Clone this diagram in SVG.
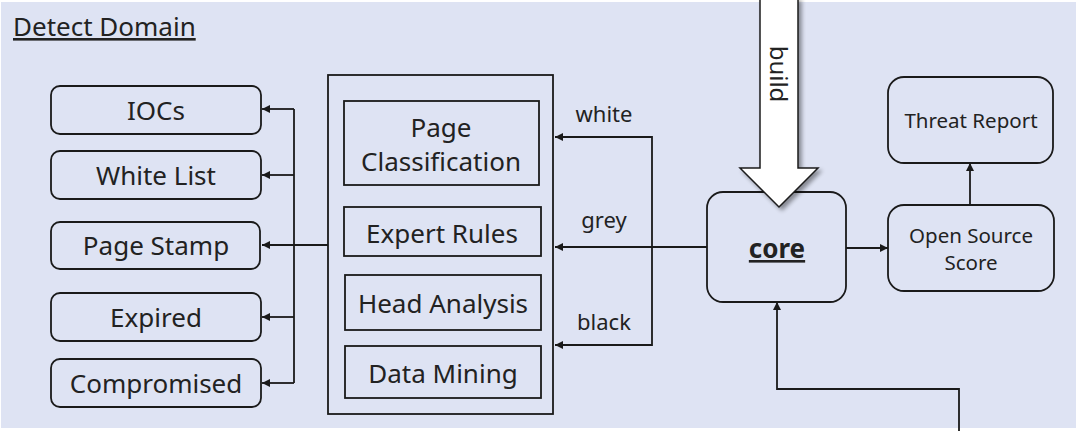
<svg xmlns="http://www.w3.org/2000/svg" width="1080" height="431" viewBox="0 0 1080 431">
<defs>
<style>
text{font-family:"Noto Sans","Open Sans","Liberation Sans",sans-serif;fill:#222222;text-anchor:middle}
.big{font-size:26px}
.sm{font-size:22px}
.box{fill:none;stroke:#1a1a1a;stroke-width:1.8}
.ln{fill:none;stroke:#1a1a1a;stroke-width:1.8}
</style>
<marker id="ah" viewBox="0 0 10 10" refX="10" refY="5" markerWidth="9" markerHeight="8" markerUnits="userSpaceOnUse" orient="auto">
<path d="M0,0 L10,5 L0,10 z" fill="#1a1a1a"/>
</marker>
<filter id="sh" x="-30%" y="-10%" width="160%" height="130%">
<feGaussianBlur in="SourceAlpha" stdDeviation="2"/>
<feOffset dx="3" dy="3" result="b"/>
<feComponentTransfer><feFuncA type="linear" slope="0.4"/></feComponentTransfer>
<feMerge><feMergeNode/><feMergeNode in="SourceGraphic"/></feMerge>
</filter>
</defs>
<rect x="1" y="2" width="1075" height="426" fill="#dee3f3"/>
<text x="13" y="36" class="big" style="text-anchor:start;text-decoration:underline">Detect Domain</text>

<g id="connectors">
<path class="ln" d="M328,245 H262" marker-end="url(#ah)"/>
<path class="ln" d="M294,109 V383"/>
<path class="ln" d="M294,109 H262" marker-end="url(#ah)"/>
<path class="ln" d="M294,175 H262" marker-end="url(#ah)"/>
<path class="ln" d="M294,317 H262" marker-end="url(#ah)"/>
<path class="ln" d="M294,383 H262" marker-end="url(#ah)"/>
<path class="ln" d="M707,247 H555" marker-end="url(#ah)"/>
<path class="ln" d="M652,247 V137 H555" marker-end="url(#ah)"/>
<path class="ln" d="M652,247 V345 H555" marker-end="url(#ah)"/>
<path class="ln" d="M846,248 H888" marker-end="url(#ah)"/>
<path class="ln" d="M970,205 V163" marker-end="url(#ah)"/>
<path class="ln" d="M959,431 V389 H777 V302" marker-end="url(#ah)"/>
<text x="604" y="122" class="sm">white</text>
<text x="604" y="228" class="sm">grey</text>
<text x="604" y="330" class="sm">black</text>
</g>

<g id="iocs"><rect class="box" x="51" y="86" width="210" height="48" rx="9"/><text x="156" y="120" class="big">IOCs</text></g>
<g id="whitelist"><rect class="box" x="51" y="151" width="210" height="48" rx="9"/><text x="156" y="185" class="big">White List</text></g>
<g id="pagestamp"><rect class="box" x="51" y="222" width="209" height="47" rx="9"/><text x="156" y="255" class="big">Page Stamp</text></g>
<g id="expired"><rect class="box" x="51" y="293" width="210" height="48" rx="9"/><text x="156" y="327" class="big">Expired</text></g>
<g id="compromised"><rect class="box" x="51" y="359" width="210" height="48" rx="9"/><text x="156" y="393" class="big">Compromised</text></g>

<g id="engine">
<rect class="box" x="328" y="75" width="225" height="339"/>
<g id="pageclass"><rect class="box" x="344" y="101" width="195" height="84"/><text x="441" y="137" class="big">Page</text><text x="441" y="171" class="big">Classification</text></g>
<g id="expert"><rect class="box" x="344" y="207" width="197" height="49"/><text x="442" y="243" class="big">Expert Rules</text></g>
<g id="head"><rect class="box" x="345" y="275" width="196" height="55"/><text x="443" y="313" class="big">Head Analysis</text></g>
<g id="mining"><rect class="box" x="345" y="346" width="196" height="52"/><text x="443" y="383" class="big">Data Mining</text></g>
</g>

<g id="core"><rect class="box" x="707" y="192" width="139" height="110" rx="16"/><text x="777" y="258" style="font-size:26px;font-weight:bold;text-decoration:underline">core</text></g>

<g id="build">
<path d="M760,-2 H798 V168 H818 L779,207 L740,168 H760 Z" fill="#ffffff" stroke="#1a1a1a" stroke-width="1.5" filter="url(#sh)"/>
<text x="779" y="74" transform="rotate(90 779 74)" dominant-baseline="central" style="font-size:24px">build</text>
</g>

<g id="oss"><rect class="box" x="888" y="205" width="166" height="86" rx="16"/><text x="971" y="243" style="font-size:20.5px">Open Source</text><text x="971" y="270" style="font-size:20.5px">Score</text></g>
<g id="threat"><rect class="box" x="888" y="77" width="165" height="86" rx="16"/><text x="971" y="128" style="font-size:20.5px">Threat Report</text></g>
</svg>
